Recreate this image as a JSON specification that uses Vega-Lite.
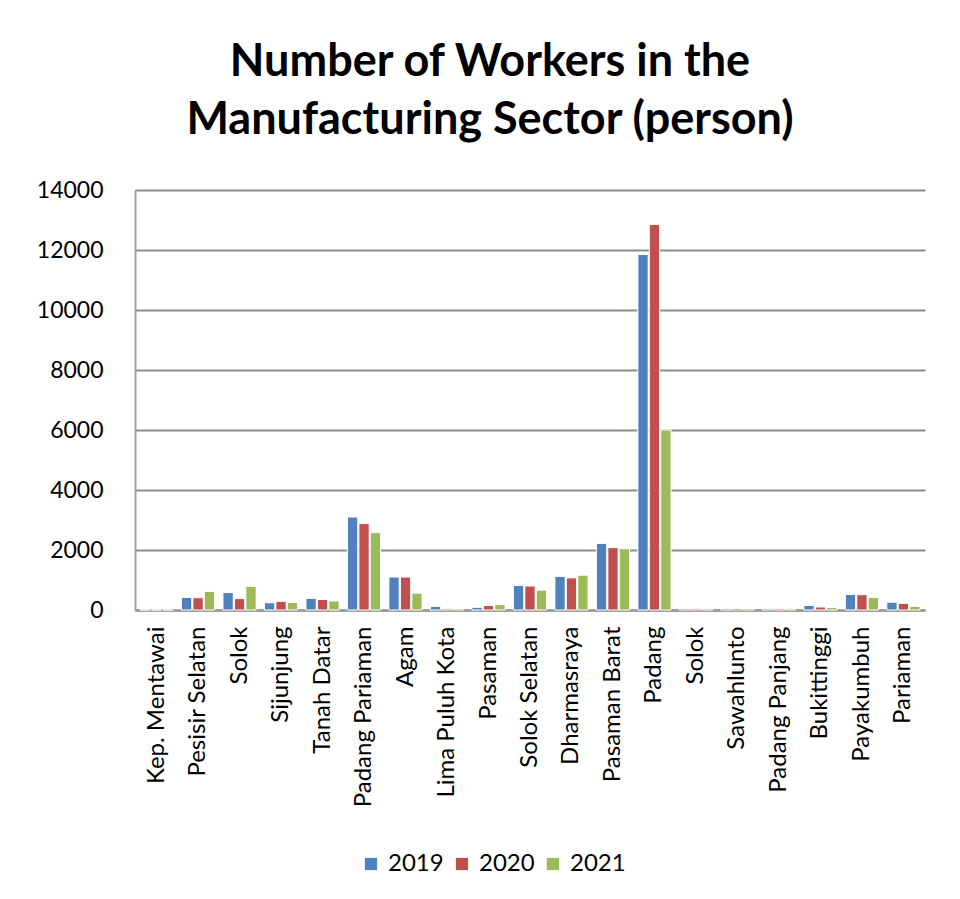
{
  "$schema": "https://vega.github.io/schema/vega-lite/v6.json",
  "width": 790,
  "height": 420,
  "autosize": "none",
  "padding": {"left": 135, "top": 190, "right": 35, "bottom": 289},
  "background": "white",
  "title": {
    "text": ["Number of Workers in the", "Manufacturing Sector (person)"],
    "font": "Lato",
    "fontSize": 45,
    "fontWeight": "bold",
    "color": "black",
    "lineHeight": 58,
    "anchor": "middle",
    "dx": -40,
    "offset": 36
  },
  "data": {
    "values": [
      {"region": "Kep. Mentawai", "year": "2019", "workers": 0},
      {"region": "Kep. Mentawai", "year": "2020", "workers": 0},
      {"region": "Kep. Mentawai", "year": "2021", "workers": 0},
      {"region": "Pesisir Selatan", "year": "2019", "workers": 420},
      {"region": "Pesisir Selatan", "year": "2020", "workers": 410},
      {"region": "Pesisir Selatan", "year": "2021", "workers": 620},
      {"region": "Solok", "year": "2019", "workers": 580},
      {"region": "Solok", "year": "2020", "workers": 380},
      {"region": "Solok", "year": "2021", "workers": 790},
      {"region": "Sijunjung", "year": "2019", "workers": 240},
      {"region": "Sijunjung", "year": "2020", "workers": 290},
      {"region": "Sijunjung", "year": "2021", "workers": 250},
      {"region": "Tanah Datar", "year": "2019", "workers": 390},
      {"region": "Tanah Datar", "year": "2020", "workers": 350},
      {"region": "Tanah Datar", "year": "2021", "workers": 300},
      {"region": "Padang Pariaman", "year": "2019", "workers": 3100},
      {"region": "Padang Pariaman", "year": "2020", "workers": 2880},
      {"region": "Padang Pariaman", "year": "2021", "workers": 2580},
      {"region": "Agam", "year": "2019", "workers": 1100},
      {"region": "Agam", "year": "2020", "workers": 1100},
      {"region": "Agam", "year": "2021", "workers": 560},
      {"region": "Lima Puluh Kota", "year": "2019", "workers": 120},
      {"region": "Lima Puluh Kota", "year": "2020", "workers": 40},
      {"region": "Lima Puluh Kota", "year": "2021", "workers": 50},
      {"region": "Pasaman", "year": "2019", "workers": 90},
      {"region": "Pasaman", "year": "2020", "workers": 150},
      {"region": "Pasaman", "year": "2021", "workers": 180},
      {"region": "Solok Selatan", "year": "2019", "workers": 820},
      {"region": "Solok Selatan", "year": "2020", "workers": 800},
      {"region": "Solok Selatan", "year": "2021", "workers": 660},
      {"region": "Dharmasraya", "year": "2019", "workers": 1120},
      {"region": "Dharmasraya", "year": "2020", "workers": 1070},
      {"region": "Dharmasraya", "year": "2021", "workers": 1160},
      {"region": "Pasaman Barat", "year": "2019", "workers": 2220},
      {"region": "Pasaman Barat", "year": "2020", "workers": 2080},
      {"region": "Pasaman Barat", "year": "2021", "workers": 2040},
      {"region": "Padang", "year": "2019", "workers": 11850},
      {"region": "Padang", "year": "2020", "workers": 12850},
      {"region": "Padang", "year": "2021", "workers": 6000},
      {"region": "Solok ", "year": "2019", "workers": 40},
      {"region": "Solok ", "year": "2020", "workers": 40},
      {"region": "Solok ", "year": "2021", "workers": 40},
      {"region": "Sawahlunto", "year": "2019", "workers": 40},
      {"region": "Sawahlunto", "year": "2020", "workers": 50},
      {"region": "Sawahlunto", "year": "2021", "workers": 50},
      {"region": "Padang Panjang", "year": "2019", "workers": 40},
      {"region": "Padang Panjang", "year": "2020", "workers": 40},
      {"region": "Padang Panjang", "year": "2021", "workers": 40},
      {"region": "Bukittinggi", "year": "2019", "workers": 150},
      {"region": "Bukittinggi", "year": "2020", "workers": 100},
      {"region": "Bukittinggi", "year": "2021", "workers": 80},
      {"region": "Payakumbuh", "year": "2019", "workers": 520},
      {"region": "Payakumbuh", "year": "2020", "workers": 510},
      {"region": "Payakumbuh", "year": "2021", "workers": 420},
      {"region": "Pariaman", "year": "2019", "workers": 260},
      {"region": "Pariaman", "year": "2020", "workers": 220},
      {"region": "Pariaman", "year": "2021", "workers": 120}
    ]
  },
  "mark": {"type": "bar", "stroke": "white", "strokeWidth": 1},
  "encoding": {
    "x": {
      "field": "region",
      "type": "nominal",
      "sort": null,
      "scale": {"paddingInner": 0.2, "paddingOuter": 0.12},
      "axis": {
        "title": null,
        "labelAngle": -90,
        "labelFont": "Lato",
        "labelFontSize": 24,
        "labelColor": "black",
        "labelPadding": 16,
        "ticks": false,
        "domainColor": "#a0a0a0",
        "domainWidth": 3,
        "labelLimit": 300
      }
    },
    "xOffset": {"field": "year", "type": "nominal", "scale": {"paddingInner": 0.1}},
    "y": {
      "field": "workers",
      "type": "quantitative",
      "scale": {"domain": [0, 14000], "nice": false},
      "axis": {
        "title": null,
        "values": [0, 2000, 4000, 6000, 8000, 10000, 12000, 14000],
        "format": "d",
        "labelFont": "Lato",
        "labelFontSize": 23,
        "labelColor": "black",
        "labelPadding": 32,
        "ticks": false,
        "domainColor": "#a0a0a0",
        "domainWidth": 2,
        "gridColor": "#8c8c8c",
        "gridWidth": 2
      }
    },
    "color": {
      "field": "year",
      "type": "nominal",
      "scale": {"domain": ["2019", "2020", "2021"], "range": ["#4F81BD", "#C0504D", "#9BBB59"]},
      "legend": {
        "title": null,
        "orient": "none",
        "direction": "horizontal",
        "legendX": 224,
        "legendY": 662,
        "symbolType": "square",
        "symbolSize": 150,
        "symbolStrokeWidth": 0,
        "labelFont": "Lato",
        "labelFontSize": 24,
        "labelColor": "black",
        "labelOffset": 5,
        "columnPadding": 6
      }
    }
  },
  "config": {"view": {"stroke": null}}
}
